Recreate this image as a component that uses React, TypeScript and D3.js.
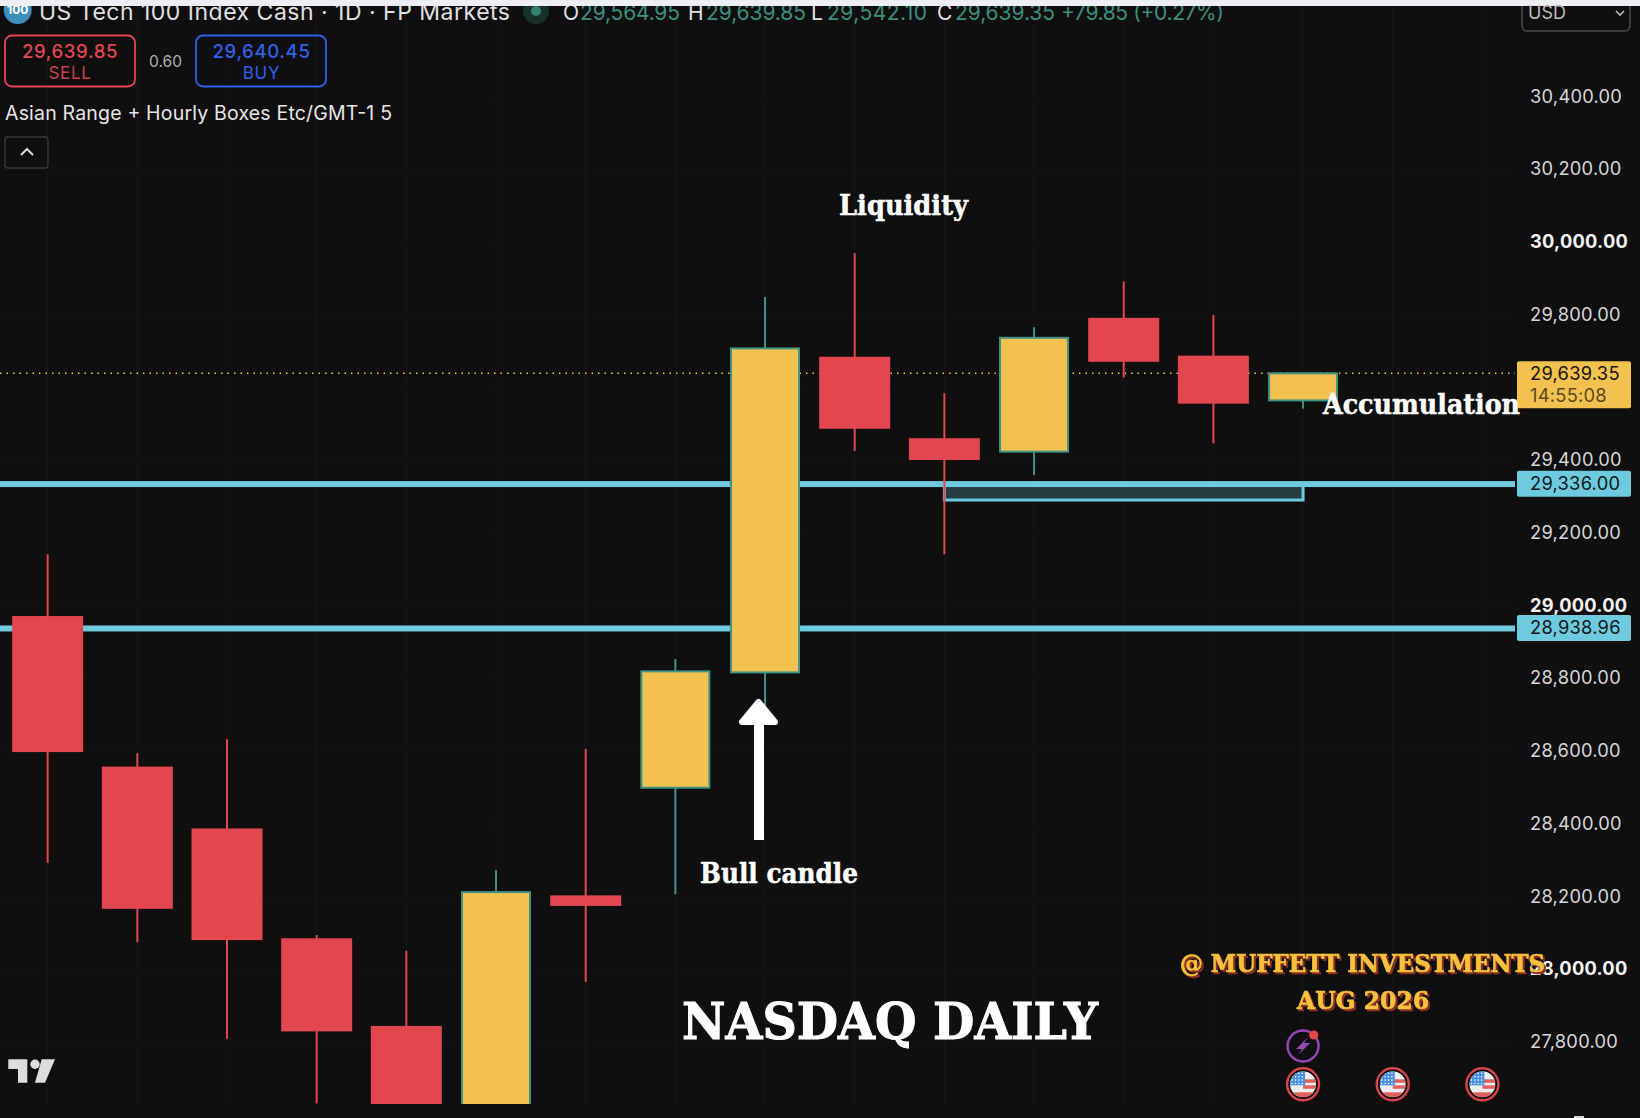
import { useEffect, useRef } from 'react';
import * as d3 from 'd3';

const WIDTH = 1640;
const HEIGHT = 1118;

// daily candles
const opens = [28972, 28558, 28388, 28086, 27845, 27500, 28204, 28500, 28817, 29685, 29461, 29424, 29792, 29688, 29564.95];
const closes = [28598, 28167, 28081, 27830, 27500, 28213, 28175, 28820, 29708, 29487, 29401, 29737, 29671, 29556, 29639.35];
const highs = [29142, 28595, 28633, 28095, 28052, 28273, 28607, 28854, 29849, 29970, 29585, 29766, 29892, 29800, 29639.85];
const lows = [28293, 28075, 27810, 27632, 27500, 27500, 27966, 28207, 28720, 29426, 29142, 29360, 29628, 29447, 29542.1];

const priceTicks = [30400, 30200, 30000, 29800, 29400, 29200, 29000, 28800, 28600, 28400, 28200, 28000, 27800];
const boldTicks = [30000, 29000, 28000];
const levels = [29336, 28938.96];
const lastPrice = 29639.35;
const countdown = '14:55:08';
const boxTop = 29336;
const boxBottom = 29291;
const boxFrom = 10;
const boxTo = 14;
const gridSlots = d3.range(0, 17);
const flagSlots = [14, 15, 16];

const headerValues = ['29,564.95', '29,639.85', '29,542.10', '29,639.35'];
const headerLetters = ['O', 'H', 'L', 'C'];

const UI_FONT = 'Inter, Roboto, sans-serif';
const SERIF = '"DejaVu Serif", serif';
const BG = '#0f0f0f';
const RED = '#e2474f';
const YELLOW = '#f2c14f';
const TEAL = '#3f9484';
const CYAN = '#6ecbdf';
const GREEN_TXT = '#3b8f7f';

export default function App() {
  const ref = useRef<SVGSVGElement>(null);

  useEffect(() => {
    const svg = d3.select(ref.current);
    svg.selectAll('*').remove();

    const x = d3.scaleLinear().domain([0, 16]).range([47.66, 1482.4]);
    const y = d3.scaleLinear().domain([30400, 27800]).range([96.7, 1042.3]);
    const fmt = d3.format(',.2f');
    const redW = 71;
    const bullW = 68;
    const chartBottom = 1104;

    svg.append('rect').attr('width', WIDTH).attr('height', HEIGHT).attr('fill', BG);

    svg.append('defs').append('clipPath').attr('id', 'pane')
      .append('rect').attr('x', 0).attr('y', 0).attr('width', WIDTH).attr('height', chartBottom);

    // faint grid
    svg.append('g').selectAll('line').data(gridSlots).join('line')
      .attr('x1', (d) => x(d)).attr('x2', (d) => x(d))
      .attr('y1', 6).attr('y2', chartBottom)
      .attr('stroke', '#1d1517').attr('stroke-width', 1);
    svg.append('g').selectAll('line').data(d3.range(27800, 30600, 200)).join('line')
      .attr('x1', 0).attr('x2', 1515)
      .attr('y1', (d) => y(d)).attr('y2', (d) => y(d))
      .attr('stroke', '#161414').attr('stroke-width', 1);

    // price axis
    const axis = d3.axisRight(y)
      .tickValues(priceTicks)
      .tickSize(0)
      .tickPadding(0)
      .tickFormat((d) => fmt(d as number));
    const axisG = svg.append('g').attr('transform', 'translate(1530,-0.5)').call(axis);
    axisG.select('.domain').remove();
    axisG.selectAll<SVGTextElement, number>('text')
      .attr('font-family', UI_FONT)
      .attr('font-size', 18.3)
      .attr('letter-spacing', 0.25)
      .attr('dy', '0.32em')
      .attr('fill', (d) => (boldTicks.includes(d) ? '#f2f2f2' : '#d6d6d6'))
      .attr('font-weight', (d) => (boldTicks.includes(d) ? 700 : 400));

    // level lines
    svg.append('g').selectAll('rect').data(levels).join('rect')
      .attr('x', 0).attr('width', 1515)
      .attr('y', (d) => y(d) - 2.6).attr('height', 6)
      .attr('fill', CYAN);

    // box sits under the candles
    svg.append('rect')
      .attr('x', x(boxFrom)).attr('width', x(boxTo) - x(boxFrom))
      .attr('y', y(boxTop)).attr('height', y(boxBottom) - y(boxTop))
      .attr('fill', CYAN).attr('fill-opacity', 0.24)
      .attr('stroke', CYAN).attr('stroke-width', 3);

    // last price dotted
    svg.append('line')
      .attr('x1', 0).attr('x2', 1515)
      .attr('y1', y(lastPrice)).attr('y2', y(lastPrice))
      .attr('stroke', YELLOW).attr('stroke-width', 1.5)
      .attr('stroke-dasharray', '1.5 5');

    // candles
    const candles = svg.append('g').attr('clip-path', 'url(#pane)');
    opens.forEach((o, i) => {
      const c = closes[i];
      const up = c >= o;
      const w = up ? bullW : redW;
      candles.append('line')
        .attr('x1', x(i)).attr('x2', x(i))
        .attr('y1', y(highs[i])).attr('y2', y(lows[i]))
        .attr('stroke', up ? TEAL : RED).attr('stroke-width', 2);
      candles.append('rect')
        .attr('x', x(i) - w / 2).attr('width', w)
        .attr('y', y(Math.max(o, c)))
        .attr('height', Math.abs(y(o) - y(c)))
        .attr('fill', up ? YELLOW : RED)
        .attr('stroke', up ? TEAL : 'none').attr('stroke-width', 2);
    });

    // price badges
    levels.forEach((l) => {
      svg.append('rect').attr('x', 1517).attr('width', 114).attr('y', y(l) - 13).attr('height', 26)
        .attr('rx', 2).attr('fill', CYAN);
      svg.append('text').attr('x', 1530).attr('y', y(l)).attr('dy', '0.34em')
        .attr('font-family', UI_FONT).attr('font-size', 18.3).attr('letter-spacing', 0.25)
        .attr('fill', '#10181c').text(fmt(l));
    });
    const ly = y(lastPrice);
    svg.append('rect').attr('x', 1517).attr('width', 114).attr('y', ly - 12).attr('height', 47)
      .attr('rx', 2).attr('fill', YELLOW);
    svg.append('text').attr('x', 1530).attr('y', ly).attr('dy', '0.34em')
      .attr('font-family', UI_FONT).attr('font-size', 18.3).attr('letter-spacing', 0.25)
      .attr('fill', '#1a1408').text(fmt(lastPrice));
    svg.append('text').attr('x', 1530).attr('y', ly + 22).attr('dy', '0.34em')
      .attr('font-family', UI_FONT).attr('font-size', 18.3).attr('letter-spacing', 0.25)
      .attr('fill', '#5c4a1c').text(countdown);

    // header
    const uiText = (tx: number, ty: number, s: string, size: number, fill: string, anchor = 'start', weight = 400) =>
      svg.append('text').attr('x', tx).attr('y', ty)
        .attr('font-family', UI_FONT).attr('font-size', size)
        .attr('fill', fill).attr('text-anchor', anchor).attr('font-weight', weight).text(s);

    svg.append('circle').attr('cx', 17.7).attr('cy', 10).attr('r', 14).attr('fill', '#3d8fbb');
    uiText(17.7, 14, '100', 12, '#fff', 'middle', 700);
    uiText(39, 20, 'US Tech 100 Index Cash · 1D · FP Markets', 23, '#e0e0e0').attr('textLength', 471);
    svg.append('circle').attr('cx', 536).attr('cy', 11).attr('r', 13).attr('fill', '#17302a');
    svg.append('circle').attr('cx', 536).attr('cy', 11).attr('r', 5).attr('fill', '#37806f');

    const letterX = [563, 688, 811, 937];
    const valueX = [580, 706, 827, 955];
    headerValues.forEach((v, i) => {
      uiText(letterX[i], 20, headerLetters[i], 21, '#e0e0e0');
      uiText(valueX[i], 20, v, 21, GREEN_TXT).attr('textLength', 100);
    });
    uiText(1061, 20, '+79.85 (+0.27%)', 21, GREEN_TXT).attr('textLength', 163);

    // top strip
    svg.append('rect').attr('width', WIDTH).attr('height', 6).attr('fill', '#eceef3');

    // USD select
    svg.append('path')
      .attr('d', 'M1522 6V26a5 5 0 0 0 5 5H1625a5 5 0 0 0 5-5V6')
      .attr('fill', 'none').attr('stroke', '#46484c').attr('stroke-width', 1.6);
    uiText(1528, 19, 'USD', 18, '#bdbdbd');
    svg.append('path').attr('d', 'M1616 11l4 4 4-4').attr('fill', 'none').attr('stroke', '#bdbdbd').attr('stroke-width', 1.6);

    // sell / buy
    svg.append('rect').attr('x', 5).attr('y', 35.5).attr('width', 130).attr('height', 51).attr('rx', 7)
      .attr('fill', 'none').attr('stroke', RED).attr('stroke-width', 1.8);
    uiText(70, 57.5, '29,639.85', 18.6, RED, 'middle', 500).attr('letter-spacing', 0.6);
    uiText(70, 78.5, 'SELL', 17, '#c8424a', 'middle').attr('letter-spacing', 0.7);
    uiText(165.5, 66.5, '0.60', 15.5, '#b0b0b0', 'middle');
    svg.append('rect').attr('x', 196).attr('y', 35.5).attr('width', 130).attr('height', 51).attr('rx', 7)
      .attr('fill', 'none').attr('stroke', '#2f62e8').attr('stroke-width', 1.8);
    uiText(261.5, 57.5, '29,640.45', 18.6, '#2f62e8', 'middle', 500).attr('letter-spacing', 0.6);
    uiText(261.5, 78.5, 'BUY', 17, '#2f62e8', 'middle').attr('letter-spacing', 0.7);

    uiText(5, 120, 'Asian Range + Hourly Boxes Etc/GMT-1 5', 19.5, '#e6e6e6').attr('textLength', 387);
    svg.append('rect').attr('x', 5).attr('y', 137).attr('width', 43).attr('height', 31).attr('rx', 3)
      .attr('fill', 'none').attr('stroke', '#36383b').attr('stroke-width', 1.4);
    svg.append('path').attr('d', 'M21 155l6-6 6 6').attr('fill', 'none').attr('stroke', '#d8d8d8').attr('stroke-width', 2);

    // annotations
    const serif = (tx: number, ty: number, s: string, size: number, len: number, fill = '#fff', thick = 0.5) =>
      svg.append('text').attr('x', tx).attr('y', ty)
        .attr('font-family', SERIF).attr('font-weight', 700).attr('font-size', size)
        .attr('fill', fill).attr('stroke', fill).attr('stroke-width', thick)
        .attr('textLength', len).attr('lengthAdjust', 'spacingAndGlyphs').text(s);

    serif(839, 215, 'Liquidity', 27, 129);
    serif(700, 883, 'Bull candle', 27, 158);
    serif(1323, 414, 'Accumulation', 27, 197);
    serif(682, 1039, 'NASDAQ DAILY', 50, 416, '#fff', 1);
    const shadow = 'drop-shadow(2px 2px 0 #8e2f22)';
    serif(1180, 972, '@ MUFFETT INVESTMENTS', 24, 365, '#f9c03d', 0.7).style('filter', shadow);
    serif(1297, 1009, 'AUG 2026', 24, 132, '#f9c03d', 0.7).style('filter', shadow);

    // arrow
    svg.append('rect').attr('x', 754).attr('y', 722).attr('width', 10).attr('height', 118).attr('fill', '#fff');
    svg.append('path').attr('d', 'M758.5 702L742 722H775Z')
      .attr('fill', '#fff').attr('stroke', '#fff').attr('stroke-width', 6).attr('stroke-linejoin', 'round');

    // TV logo
    const logo = svg.append('g').attr('fill', '#dddddd');
    logo.append('path').attr('d', 'M8.3 1059.3H27.3V1082.7H18V1069H8.3Z');
    logo.append('circle').attr('cx', 35).attr('cy', 1064.3).attr('r', 4.7);
    logo.append('path').attr('d', 'M41.7 1059.3H55L45 1082.7H35Z');

    // event icons
    const bolt = svg.append('g').attr('transform', `translate(${x(14)},1046)`);
    bolt.append('circle').attr('r', 15.5).attr('fill', 'none').attr('stroke', '#9a46b8').attr('stroke-width', 2.4);
    bolt.append('path').attr('d', 'M5-9L-7 3H-1L-5 9L7-3H1Z').attr('fill', '#9a46b8');
    bolt.append('circle').attr('cx', 10.7).attr('cy', -11).attr('r', 4.6).attr('fill', RED);

    const defs = svg.select('defs');
    flagSlots.forEach((slot, k) => {
      const id = `flag-${k}`;
      defs.append('clipPath').attr('id', id).append('circle').attr('r', 13);
      const g = svg.append('g').attr('transform', `translate(${x(slot)},1084.3)`);
      g.append('circle').attr('r', 16).attr('fill', BG).attr('stroke', '#d8444c').attr('stroke-width', 2.4);
      const f = g.append('g').attr('clip-path', `url(#${id})`);
      f.append('rect').attr('x', -13).attr('y', -13).attr('width', 26).attr('height', 26).attr('fill', '#eeeeee');
      [-5, 1, 8].forEach((sy, j) =>
        f.append('rect').attr('x', j === 2 ? -13 : 0).attr('y', sy).attr('width', 26).attr('height', j === 2 ? 6 : 3.5).attr('fill', '#e0605c'));
      f.append('rect').attr('x', -13).attr('y', -13).attr('width', 15).attr('height', 14).attr('fill', '#4a8fe0');
      d3.range(-11, 1, 3.4).forEach((dx) => d3.range(-11, 0, 3.4).forEach((dy) =>
        f.append('circle').attr('cx', dx).attr('cy', dy).attr('r', 0.8).attr('fill', '#fff')));
    });

    svg.append('rect').attr('x', 1574).attr('y', 1116).attr('width', 10).attr('height', 2).attr('fill', '#d8d8d8');
  }, []);

  return (
    <svg
      ref={ref}
      width={WIDTH}
      height={HEIGHT}
      style={{ position: 'absolute', left: 0, top: 0, display: 'block' }}
    />
  );
}
